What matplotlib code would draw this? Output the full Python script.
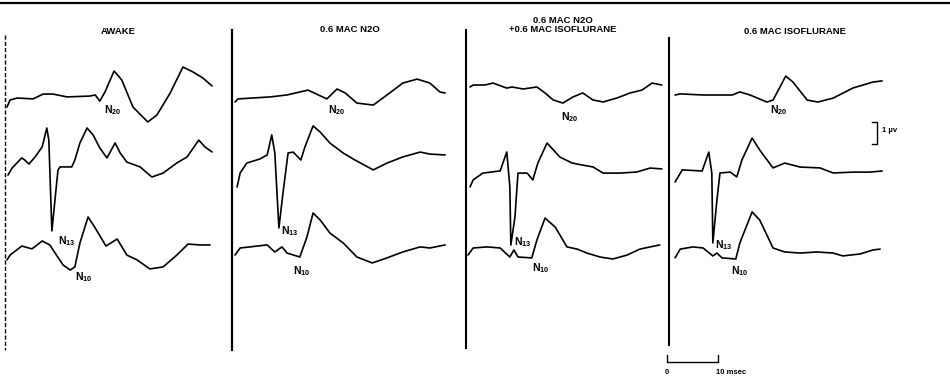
import matplotlib
matplotlib.use("Agg")
import matplotlib.pyplot as plt

# evoked potential traces, time in msec and amplitude in microvolts
# (top = cortical N20, middle = cervical N13, bottom = Erb's point N10)
titles = ["AWAKE", "0.6 MAC N2O", "0.6 MAC N2O\n+0.6 MAC ISOFLURANE", "0.6 MAC ISOFLURANE"]

awake_top_t = [0.0, 0.6, 2.0, 5.1, 7.1, 9.0, 11.8, 16.3, 17.3, 18.2, 19.2, 21.0, 22.5, 24.7, 27.6, 29.4, 32.0, 34.5, 36.5, 38.4, 40.2]
awake_top_uv = [-0.32, 0.0, 0.09, 0.05, 0.27, 0.27, 0.14, 0.18, 0.23, -0.05, 0.36, 1.32, 0.91, -0.32, -1.0, -0.68, 0.32, 1.5, 1.27, 1.0, 0.64]
awake_mid_t = [0.2, 1.0, 2.9, 3.5, 4.3, 5.5, 6.9, 7.8, 8.2, 8.8, 9.8, 10.0, 10.4, 12.7, 13.3, 14.3, 15.7, 16.9, 18.2, 19.6, 21.2, 22.2, 23.5, 26.1, 28.4, 30.6, 33.3, 35.3, 37.6, 38.8, 40.2]
awake_mid_uv = [-0.23, 0.09, 0.55, 0.45, 0.27, 0.59, 1.05, 1.91, 1.36, -2.77, -0.45, 0.0, 0.14, 0.14, 0.45, 1.23, 1.91, 1.59, 1.0, 0.55, 1.23, 0.77, 0.36, 0.14, -0.32, -0.14, 0.32, 0.59, 1.36, 1.05, 0.82]
awake_low_t = [0.0, 0.6, 2.9, 4.9, 6.9, 8.4, 9.8, 11.0, 12.4, 13.3, 14.3, 15.9, 17.3, 19.4, 21.6, 23.5, 25.5, 28.0, 30.6, 33.3, 35.5, 37.8, 39.8]
awake_low_uv = [-0.45, -0.23, 0.18, 0.05, 0.41, 0.23, -0.27, -0.68, -0.91, -0.77, 0.32, 1.5, 1.0, 0.18, 0.5, -0.23, -0.45, -0.86, -0.77, -0.23, 0.27, 0.23, 0.23]

n2o_top_t = [0.4, 1.0, 7.3, 10.6, 14.7, 18.4, 20.4, 22.0, 24.3, 27.5, 30.2, 33.3, 36.1, 38.6, 40.6, 41.6]
n2o_top_uv = [-0.09, 0.05, 0.14, 0.23, 0.45, 0.05, 0.5, 0.32, -0.14, -0.23, 0.23, 0.77, 0.95, 0.77, 0.36, 0.32]
n2o_mid_t = [0.8, 1.4, 2.7, 5.3, 6.7, 7.6, 8.2, 9.0, 9.8, 10.8, 11.8, 13.3, 14.1, 15.7, 17.1, 19.0, 21.6, 23.9, 27.5, 30.2, 33.3, 36.7, 38.6, 41.6]
n2o_mid_uv = [-1.23, -0.59, -0.14, 0.05, 0.23, 1.14, 0.32, -3.09, -1.5, 0.32, 0.36, 0.0, 0.59, 1.55, 1.27, 0.77, 0.32, 0.0, -0.45, -0.14, 0.14, 0.36, 0.27, 0.23]
n2o_low_t = [0.4, 1.4, 3.3, 6.7, 8.2, 9.6, 10.6, 13.1, 14.5, 15.7, 17.1, 19.0, 21.6, 24.3, 27.3, 30.2, 33.3, 36.7, 38.6, 41.6]
n2o_low_uv = [-0.32, 0.0, 0.05, 0.14, -0.18, 0.05, -0.23, -0.41, 0.5, 1.59, 1.27, 0.68, 0.23, -0.41, -0.68, -0.45, -0.18, 0.05, 0.0, 0.14]

both_top_t = [0.6, 1.2, 3.5, 5.1, 7.8, 8.8, 11.0, 13.7, 15.3, 16.9, 18.8, 20.8, 22.7, 24.7, 26.7, 29.4, 32.0, 34.3, 36.3, 38.2]
both_top_uv = [0.0, 0.09, 0.09, 0.18, -0.05, 0.0, -0.09, 0.0, -0.27, -0.59, -0.73, -0.45, -0.27, -0.59, -0.68, -0.5, -0.27, -0.14, 0.18, 0.09]
both_mid_t = [0.6, 1.2, 3.1, 6.5, 7.8, 8.4, 8.6, 9.4, 10.0, 11.8, 12.9, 13.9, 15.7, 18.2, 20.6, 22.5, 24.7, 26.7, 30.0, 33.3, 35.9, 38.2]
both_mid_uv = [-0.68, -0.36, -0.05, 0.05, 0.91, -0.68, -3.32, -2.05, -0.05, -0.05, -0.36, 0.41, 1.32, 0.68, 0.41, 0.32, 0.23, -0.05, -0.05, 0.0, 0.18, 0.14]
both_low_t = [0.2, 1.2, 3.9, 6.5, 8.4, 9.2, 10.0, 12.7, 13.7, 15.3, 17.3, 19.6, 21.6, 23.5, 26.1, 28.6, 31.4, 33.9, 37.8]
both_low_uv = [-0.32, 0.0, 0.05, 0.0, -0.41, -0.09, -0.41, -0.45, 0.36, 1.36, 0.95, 0.05, -0.05, -0.23, -0.41, -0.5, -0.32, -0.05, 0.14]

iso_top_t = [1.0, 2.0, 6.5, 12.2, 13.7, 15.7, 19.0, 20.2, 22.7, 24.1, 26.9, 29.0, 32.0, 35.9, 39.8, 41.6]
iso_top_uv = [0.0, 0.05, 0.0, 0.0, 0.14, 0.0, -0.32, -0.23, 0.86, 0.59, -0.23, -0.32, -0.14, 0.32, 0.59, 0.64]
iso_mid_t = [1.0, 2.4, 6.3, 7.6, 8.2, 8.4, 9.2, 9.8, 11.8, 13.1, 14.1, 16.1, 17.6, 20.2, 22.5, 25.5, 29.4, 32.0, 35.9, 39.2, 41.6]
iso_mid_uv = [-0.5, 0.05, 0.0, 0.86, -0.09, -3.27, -1.32, -0.09, -0.05, -0.27, 0.5, 1.5, 0.95, 0.14, 0.36, 0.18, 0.14, -0.09, -0.05, -0.05, 0.0]
iso_low_t = [1.0, 2.0, 4.5, 6.5, 8.4, 9.2, 10.2, 12.9, 13.7, 16.1, 17.6, 20.2, 22.5, 25.5, 28.8, 32.0, 33.9, 37.3, 39.8, 41.2]
iso_low_uv = [-0.45, -0.05, 0.05, 0.0, -0.36, -0.23, -0.45, -0.5, 0.23, 1.64, 1.27, 0.0, -0.18, -0.23, -0.18, -0.23, -0.36, -0.27, -0.09, -0.05]

panels = [
    [(awake_top_t, awake_top_uv), (awake_mid_t, awake_mid_uv), (awake_low_t, awake_low_uv)],
    [(n2o_top_t, n2o_top_uv), (n2o_mid_t, n2o_mid_uv), (n2o_low_t, n2o_low_uv)],
    [(both_top_t, both_top_uv), (both_mid_t, both_mid_uv), (both_low_t, both_low_uv)],
    [(iso_top_t, iso_top_uv), (iso_mid_t, iso_mid_uv), (iso_low_t, iso_low_uv)],
]

# layout (pixels): stimulus position of each panel, trace baselines, artifact extent
W, H = 950, 379
PX_MS = 5.1
PX_UV = 22.0
stim_x = [7, 233, 467, 670]
baselines = [(100, 170, 250), (100, 160, 248), (87, 172, 248), (95, 171, 248)]
artifact = [(-0.4, 35, 350), (-0.2, 30, 350), (-0.2, 30, 348), (-0.1, 38, 345)]
artifact_ls = [(0, (3, 1.5)), "-", "-", "-"]
artifact_lw = [1.0, 1.6, 1.5, 1.5]
# label pixel positions: N20, N13, N10, title
n20_xy = [(113, 110), (337, 110), (570, 117), (779, 110)]
n13_xy = [(67, 241), (290, 231), (523, 242), (724, 245)]
n10_xy = [(84, 277), (302, 271), (541, 268), (740, 271)]
title_xy = [(118, 32), (350, 29), (563, 25), (795, 31)]

plt.rcParams["mathtext.fontset"] = "custom"
plt.rcParams["mathtext.bf"] = "Liberation Sans:bold"
plt.rcParams["mathtext.rm"] = "Liberation Sans"
plt.rcParams["font.family"] = "Liberation Sans"

fig = plt.figure(figsize=(W / 100, H / 100), dpi=100)
fig.patch.set_facecolor("white")

t_lo, t_hi = -2.0, 44.0
axes = []
for p in range(4):
    left = (stim_x[p] + t_lo * PX_MS) / W
    width = (t_hi - t_lo) * PX_MS / W
    ax = fig.add_axes([left, 0, width, 1])
    ax.set_xlim(t_lo, t_hi)
    ax.set_ylim(-H / PX_UV, 0)
    ax.axis("off")
    ax.patch.set_alpha(0)
    axes.append(ax)

    for (t, uv), base in zip(panels[p], baselines[p]):
        off = -base / PX_UV
        ax.plot(t, [v + off for v in uv], color="black", lw=1.2,
                solid_joinstyle="round", solid_capstyle="round")

    at, top, bot = artifact[p]
    ax.plot([at, at], [-top / PX_UV, -bot / PX_UV], color="black",
            lw=artifact_lw[p], linestyle=artifact_ls[p])

    fig.text(title_xy[p][0] / W, 1 - title_xy[p][1] / H, titles[p],
             ha="center", va="center", fontsize=6.8, fontweight="bold",
             linespacing=1.0)
    for lab, xy in (("20", n20_xy[p]), ("13", n13_xy[p]), ("10", n10_xy[p])):
        fig.text(xy[0] / W, 1 - xy[1] / H, r"$\mathbf{N_{%s}}$" % lab,
                 ha="center", va="center", fontsize=7.5)

# top rule
fig.add_artist(plt.Line2D([0, 1], [1 - 3 / H, 1 - 3 / H], color="black", lw=1.6))

# calibration bars, drawn in the last panel's units
ax = axes[3]
t0 = -0.6
yb = -362 / PX_UV
ax.plot([t0, t0, t0 + 10, t0 + 10], [yb + 0.3, yb, yb, yb + 0.3], color="black", lw=1.0)
ax.text(t0, yb - 0.3, "0", ha="center", va="top", fontsize=5.5, fontweight="bold")
ax.text(t0 + 9.6, yb - 0.3, "10 msec", ha="left", va="top", fontsize=5.5, fontweight="bold")
tb = 40.6
yt = -122 / PX_UV
ax.plot([tb - 1.0, tb, tb, tb - 1.0], [yt, yt, yt - 1.0, yt - 1.0], color="black", lw=1.0)
ax.text(tb + 1.0, yt - 0.4, "1 µv", ha="left", va="center", fontsize=5.5, fontweight="bold")

fig.savefig("out.png", dpi=100, facecolor="white")
